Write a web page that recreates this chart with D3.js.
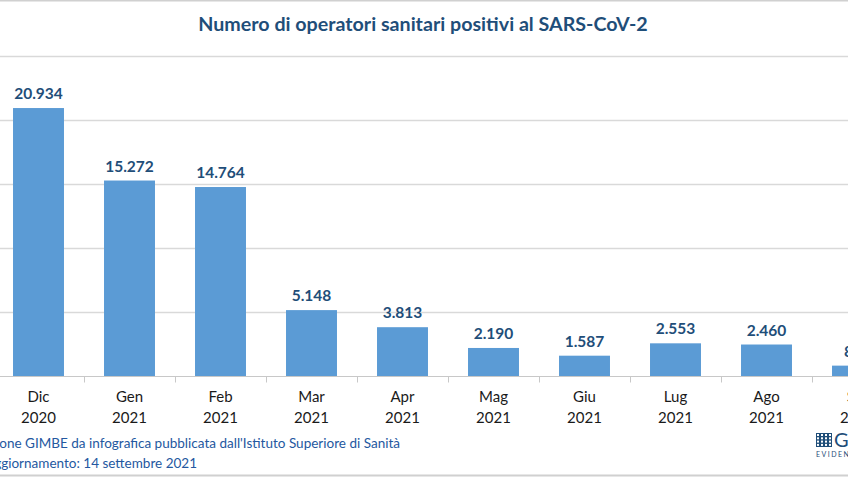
<!DOCTYPE html>
<html><head><meta charset="utf-8">
<script src="https://cdn.jsdelivr.net/npm/d3@7"></script>
<style>body{margin:0;background:#fff;overflow:hidden}svg{display:block}text{font-family:Lato,"Open Sans",sans-serif}</style>
</head><body>
<svg id="c" width="848" height="477"></svg>
<script>
const months = ["Dic","Gen","Feb","Mar","Apr","Mag","Giu","Lug","Ago","Set"];
const years = ["2020","2021","2021","2021","2021","2021","2021","2021","2021","2021"];
const values = [20934,15272,14764,5148,3813,2190,1587,2553,2460,810];
const yTicks = [0,5000,10000,15000,20000,25000];
const title = "Numero di operatori sanitari positivi al SARS-CoV-2";
const footer1 = "Elaborazione GIMBE da infografica pubblicata dall'Istituto Superiore di Sanità";
const footer2 = "Ultimo aggiornamento: 14 settembre 2021";

const svg = d3.select("#c");
const W = 848, H = 477;
const fmt = v => d3.format(",")(v).replace(/,/g, ".");

// borders
svg.append("line").attr("x1",0).attr("x2",W).attr("y1",0.5).attr("y2",0.5).attr("stroke","#D0D0D0").attr("stroke-width",2);
svg.append("line").attr("x1",0).attr("x2",W).attr("y1",475.5).attr("y2",475.5).attr("stroke","#D0D0D0").attr("stroke-width",2);

const x = d3.scaleBand().domain(months.map((m,i)=>i)).range([-7, 903]).paddingInner(0.44).paddingOuter(0.22);
const y = d3.scaleLinear().domain([0,25000]).range([376,56]);

// gridlines
svg.append("g").selectAll("line").data(yTicks.slice(1)).join("line")
  .attr("x1",0).attr("x2",W).attr("y1",d=>Math.round(y(d))+0.5).attr("y2",d=>Math.round(y(d))+0.5)
  .attr("stroke","#D9D9D9").attr("stroke-width",1.5);

// bars
svg.append("g").selectAll("rect").data(values).join("rect")
  .attr("x",(d,i)=>x(i)).attr("width",x.bandwidth())
  .attr("y",d=>y(d)).attr("height",d=>y(0)-y(d))
  .attr("fill","#5B9BD5");

// x axis
const xb = d3.scaleLinear().domain([0,10]).range([-7,903]);
const ax = svg.append("g").attr("transform","translate(0,376.5)");
ax.append("line").attr("x1",0).attr("x2",W).attr("stroke","#C8C8C8").attr("stroke-width",1);
ax.selectAll(".tk").data(d3.range(11)).join("line").attr("class","tk")
  .attr("x1",d=>Math.round(xb(d))+0.5).attr("x2",d=>Math.round(xb(d))+0.5).attr("y1",0).attr("y2",6)
  .attr("stroke","#C8C8C8");

// category labels
const lab = svg.append("g").selectAll("text").data(months).join("text")
  .attr("x",(d,i)=>x(i)+x.bandwidth()/2).attr("text-anchor","middle")
  .attr("font-size",15).attr("fill","#1a1a1a");
lab.append("tspan").attr("x",(d,i)=>x(i)+x.bandwidth()/2).attr("y",402).text(d=>d);
lab.append("tspan").attr("x",(d,i)=>x(i)+x.bandwidth()/2).attr("y",423).text((d,i)=>years[i]);

// value labels
svg.append("g").selectAll("text").data(values).join("text")
  .attr("x",(d,i)=>x(i)+x.bandwidth()/2).attr("y",d=>y(d)-9)
  .attr("text-anchor","middle").attr("font-size",15.5).attr("font-weight","bold").attr("fill","#1F4E79")
  .text(d=>fmt(d));

// title
const t = svg.append("text").attr("x",423).attr("y",31).attr("text-anchor","middle")
  .attr("font-size",19).attr("font-weight","bold").attr("fill","#1F4E79").text(title);
const tl = t.node().getComputedTextLength();
t.attr("font-size", 19*450/tl);

// footer: scale so the visible tail matches the reference width
function fitTail(full, tail, targetW){
  const tmp = svg.append("text").attr("font-size",14).text(tail);
  const w = tmp.node().getComputedTextLength(); tmp.remove();
  return 14*targetW/w;
}
const fs1 = fitTail(footer1, "one GIMBE da infografica pubblicata dall'Istituto Superiore di Sanità", 399);
const fs2 = fitTail(footer2, "giornamento: 14 settembre 2021", 197);
const fs = (fs1+fs2)/2;
svg.append("text").attr("x",400).attr("y",448).attr("text-anchor","end").attr("font-size",fs).attr("fill","#2458A0").text(footer1);
svg.append("text").attr("x",197).attr("y",468).attr("text-anchor","end").attr("font-size",fs).attr("fill","#2458A0").text(footer2);

// logo
const lg = svg.append("g").attr("transform","translate(816,433)");
lg.append("rect").attr("width",16).attr("height",14).attr("fill","#1F4E79");
for(let r=0;r<4;r++)for(let c=0;c<4;c++){
  lg.append("rect").attr("x",1+c*4).attr("y",1+r*3.3).attr("width",2).attr("height",2).attr("fill","#fff");
}
lg.append("text").attr("x",18).attr("y",14).attr("font-size",20).attr("fill","#1F4E79").attr("font-family","Liberation Serif").text("G");
lg.append("text").attr("x",0).attr("y",24).attr("font-size",7).attr("letter-spacing",1.5).attr("fill","#1F4E79").text("EVIDENCE FOR HEALTH");
</script>
</body></html>
